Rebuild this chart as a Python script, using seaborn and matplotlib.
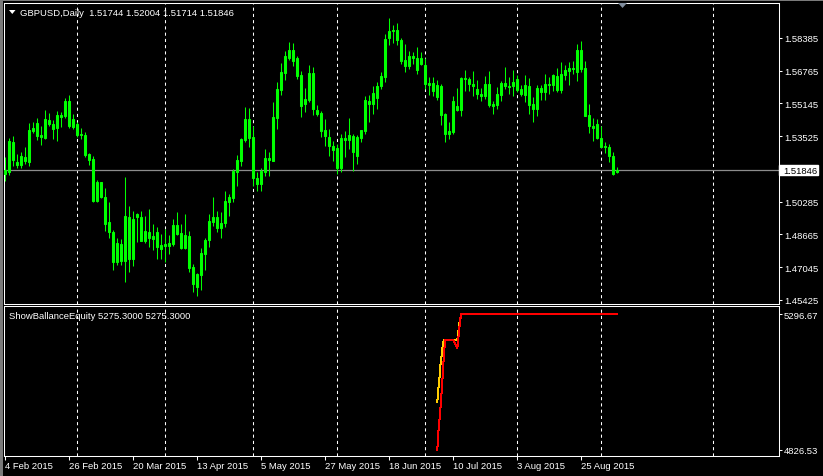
import numpy as np
import pandas as pd
import matplotlib
matplotlib.use("Agg")
import matplotlib.pyplot as plt
import matplotlib.transforms as mtransforms
from matplotlib.patches import Rectangle, Polygon
import seaborn as sns

# ---------------- data ----------------
opens = [1.5166, 1.5174, 1.5322, 1.5224, 1.5210, 1.5248, 1.5227, 1.5380, 1.5418, 1.5359,
         1.5344, 1.5431, 1.5412, 1.5395, 1.5458, 1.5451, 1.5527, 1.5400, 1.5412, 1.5359,
         1.5359, 1.5263, 1.5240, 1.5034, 1.5125, 1.5050, 1.4926, 1.4877, 1.4729, 1.4819,
         1.4737, 1.4951, 1.4745, 1.4951, 1.4951, 1.4836, 1.4877, 1.4844, 1.4877, 1.4794,
         1.4811, 1.4824, 1.4819, 1.4913, 1.4873, 1.4801, 1.4857, 1.4705, 1.4608, 1.4667,
         1.4771, 1.4837, 1.4926, 1.4951, 1.4901, 1.4921, 1.5028, 1.5048, 1.5174, 1.5231,
         1.5335, 1.5438, 1.5347, 1.5144, 1.5116, 1.5174, 1.5236, 1.5231, 1.5444, 1.5583,
         1.5667, 1.5739, 1.5779, 1.5738, 1.5655, 1.5510, 1.5533, 1.5665, 1.5482, 1.5467,
         1.5383, 1.5347, 1.5302, 1.5292, 1.5197, 1.5344, 1.5335, 1.5352, 1.5253, 1.5344,
         1.5380, 1.5525, 1.5514, 1.5543, 1.5599, 1.5647, 1.5837, 1.5875, 1.5877, 1.5829,
         1.5728, 1.5702, 1.5748, 1.5740, 1.5712, 1.5705, 1.5606, 1.5616, 1.5606, 1.5599,
         1.5461, 1.5362, 1.5375, 1.5500, 1.5484, 1.5635, 1.5635, 1.5609, 1.5586, 1.5561,
         1.5553, 1.5611, 1.5512, 1.5509, 1.5558, 1.5616, 1.5603, 1.5603, 1.5636, 1.5586,
         1.5558, 1.5599, 1.5512, 1.5487, 1.5591, 1.5570, 1.5611, 1.5606, 1.5649, 1.5581,
         1.5657, 1.5677, 1.5690, 1.5672, 1.5779, 1.5688, 1.5457, 1.5405, 1.5411, 1.5343,
         1.5306, 1.5299, 1.5256, 1.51744]
highs = [1.5248, 1.5342, 1.5352, 1.5263, 1.5273, 1.5298, 1.5418, 1.5421, 1.5443, 1.5405,
         1.5481, 1.5468, 1.5433, 1.5476, 1.5471, 1.5540, 1.5557, 1.5463, 1.5425, 1.5392,
         1.5372, 1.5270, 1.5253, 1.5138, 1.5128, 1.5095, 1.5026, 1.4890, 1.4847, 1.4844,
         1.5151, 1.5009, 1.4984, 1.4973, 1.4981, 1.4956, 1.4993, 1.4918, 1.4902, 1.4868,
         1.4896, 1.4863, 1.4943, 1.4979, 1.4918, 1.4968, 1.4885, 1.4720, 1.4675, 1.4801,
         1.4849, 1.4968, 1.5053, 1.4984, 1.4976, 1.5083, 1.5066, 1.5190, 1.5261, 1.5344,
         1.5497, 1.5494, 1.5401, 1.5174, 1.5195, 1.5289, 1.5276, 1.5523, 1.5619, 1.5713,
         1.5776, 1.5817, 1.5814, 1.5748, 1.5675, 1.5589, 1.5707, 1.5697, 1.5507, 1.5479,
         1.5438, 1.5388, 1.5330, 1.5314, 1.5363, 1.5380, 1.5443, 1.5363, 1.5358, 1.5385,
         1.5553, 1.5556, 1.5599, 1.5622, 1.5669, 1.5858, 1.5938, 1.5903, 1.5913, 1.5837,
         1.5809, 1.5773, 1.5771, 1.5792, 1.5768, 1.5738, 1.5644, 1.5644, 1.5632, 1.5611,
         1.5467, 1.5421, 1.5550, 1.5591, 1.5644, 1.5680, 1.5644, 1.5675, 1.5632, 1.5591,
         1.5652, 1.5675, 1.5528, 1.5598, 1.5627, 1.5697, 1.5644, 1.5680, 1.5655, 1.5606,
         1.5655, 1.5639, 1.5545, 1.5606, 1.5606, 1.5660, 1.5644, 1.5660, 1.5688, 1.5721,
         1.5705, 1.5721, 1.5726, 1.5809, 1.5824, 1.5726, 1.5512, 1.5441, 1.5438, 1.5401,
         1.5325, 1.5314, 1.5273, 1.52004]
lows = [1.5133, 1.5161, 1.5204, 1.5197, 1.5194, 1.5215, 1.5207, 1.5369, 1.5336, 1.5309,
        1.5339, 1.5402, 1.5339, 1.5329, 1.5397, 1.5445, 1.5392, 1.5389, 1.5347, 1.5339,
        1.5248, 1.5210, 1.5029, 1.5025, 1.5045, 1.4885, 1.4847, 1.4692, 1.4715, 1.4715,
        1.4630, 1.4682, 1.4712, 1.4831, 1.4836, 1.4824, 1.4803, 1.4791, 1.4745, 1.4745,
        1.4728, 1.4769, 1.4811, 1.4863, 1.4794, 1.4797, 1.4679, 1.4580, 1.4560, 1.4593,
        1.4692, 1.4807, 1.4910, 1.4877, 1.4850, 1.4906, 1.4956, 1.5025, 1.5104, 1.5207,
        1.5322, 1.5301, 1.5108, 1.5083, 1.5083, 1.5154, 1.5157, 1.5231, 1.5388, 1.5558,
        1.5632, 1.5731, 1.5702, 1.5636, 1.5446, 1.5471, 1.5523, 1.5459, 1.5454, 1.5347,
        1.5302, 1.5256, 1.5231, 1.5165, 1.5177, 1.5248, 1.5289, 1.5182, 1.5215, 1.5322,
        1.5363, 1.5421, 1.5462, 1.5487, 1.5586, 1.5622, 1.5804, 1.5814, 1.5804, 1.5710,
        1.5669, 1.5685, 1.5710, 1.5660, 1.5705, 1.5586, 1.5556, 1.5553, 1.5533, 1.5408,
        1.5325, 1.5339, 1.5363, 1.5479, 1.5451, 1.5578, 1.5578, 1.5553, 1.5537, 1.5528,
        1.5537, 1.5495, 1.5462, 1.5487, 1.5528, 1.5586, 1.5561, 1.5553, 1.5570, 1.5553,
        1.5523, 1.5462, 1.5424, 1.5454, 1.5533, 1.5533, 1.5561, 1.5578, 1.5573, 1.5565,
        1.5632, 1.5606, 1.5660, 1.5627, 1.5669, 1.5451, 1.5368, 1.5330, 1.5339, 1.5297,
        1.5269, 1.5223, 1.5160, 1.51714]
closes = [1.5185, 1.5327, 1.5237, 1.5210, 1.5253, 1.5232, 1.5384, 1.5393, 1.5356, 1.5351,
          1.5438, 1.5413, 1.5390, 1.5458, 1.5450, 1.5527, 1.5405, 1.5438, 1.5360, 1.5364,
          1.5261, 1.5237, 1.5034, 1.5125, 1.5050, 1.4918, 1.4880, 1.4732, 1.4824, 1.4737,
          1.4956, 1.4745, 1.4943, 1.4968, 1.4836, 1.4884, 1.4847, 1.4860, 1.4803, 1.4814,
          1.4819, 1.4811, 1.4913, 1.4868, 1.4799, 1.4863, 1.4702, 1.4621, 1.4670, 1.4774,
          1.4840, 1.4931, 1.4954, 1.4900, 1.4923, 1.5032, 1.5050, 1.5183, 1.5235, 1.5339,
          1.5438, 1.5345, 1.5144, 1.5114, 1.5182, 1.5243, 1.5245, 1.5447, 1.5586, 1.5672,
          1.5748, 1.5777, 1.5726, 1.5652, 1.5504, 1.5537, 1.5665, 1.5487, 1.5462, 1.5380,
          1.5352, 1.5306, 1.5286, 1.5197, 1.5342, 1.5335, 1.5358, 1.5273, 1.5347, 1.5382,
          1.5530, 1.5514, 1.5565, 1.5599, 1.5649, 1.5834, 1.5875, 1.5878, 1.5827, 1.5726,
          1.5702, 1.5748, 1.5741, 1.5682, 1.5740, 1.5613, 1.5616, 1.5578, 1.5545, 1.5459,
          1.5362, 1.5378, 1.5525, 1.5484, 1.5639, 1.5640, 1.5609, 1.5602, 1.5560, 1.5553,
          1.5611, 1.5509, 1.5504, 1.5561, 1.5616, 1.5603, 1.5598, 1.5619, 1.5583, 1.5561,
          1.5606, 1.5509, 1.5487, 1.5591, 1.5570, 1.5611, 1.5606, 1.5655, 1.5581, 1.5660,
          1.5680, 1.5690, 1.5687, 1.5779, 1.5685, 1.5454, 1.5401, 1.5395, 1.5342, 1.5301,
          1.5297, 1.5253, 1.5165, 1.51846]

date_tick_bars = [0, 16, 32, 48, 64, 80, 96, 112, 128, 144]
date_tick_labels = ["4 Feb 2015", "26 Feb 2015", "20 Mar 2015", "13 Apr 2015", "5 May 2015",
                    "27 May 2015", "18 Jun 2015", "10 Jul 2015", "3 Aug 2015", "25 Aug 2015"]
month_grid_bars = [18, 40, 62, 83, 105, 128, 149, 177]
price_ticks = [1.58385, 1.56765, 1.55145, 1.53525, 1.50285, 1.48665, 1.47045, 1.45425]
indicator_ticks = [5296.67, 4826.53]

equity_x = [108.0, 108.25, 108.5, 108.75, 109.0, 109.25, 109.5, 109.75, 110.0, 112.0,
            113.0, 113.25, 113.5, 113.75, 114.0, 153.0]
equity_y = [4826.6, 4886.7, 4921.3, 4961.7, 5011.4, 5059.9, 5119.9, 5175.4, 5207.7, 5207.7,
            5177.7, 5210.1, 5244.7, 5279.3, 5296.7, 5296.7]
balance_x = [108.0, 108.25, 108.5, 108.75, 109.0, 109.25, 109.5, 109.75, 112.0, 113.0,
             113.25, 113.5, 113.75, 114.0, 153.0]
balance_y = [4990.6, 5036.9, 5065.7, 5117.7, 5143.1, 5175.4, 5198.5, 5207.7, 5207.7, 5207.7,
             5233.2, 5262.0, 5281.7, 5296.7, 5296.7]

title_text = "GBPUSD,Daily  1.51744 1.52004 1.51714 1.51846"
sub_text = "ShowBallanceEquity 5275.3000 5275.3000"

# ---------------- style ----------------
sns.set_theme(style="dark", rc={"axes.facecolor": "black", "figure.facecolor": "black"})
plt.rcParams['font.family'] = ['Liberation Sans', 'DejaVu Sans']
FS = 6.8
LIME = '#00ff00'

W, H = 823, 477
fig = plt.figure(figsize=(W / 100, H / 100), dpi=100, facecolor='black')


def px_axes(l, t, r, b):
    return fig.add_axes([l / W, 1 - b / H, (r - l) / W, (b - t) / H])


ax = px_axes(4, 4, 779, 305)
ax2 = px_axes(4, 307, 779, 457)

df = pd.DataFrame({"o": opens, "h": highs, "l": lows, "c": closes})
df["bar"] = np.arange(len(df))

for a in (ax, ax2):
    a.set_facecolor('black')
    a.set_xlim(-0.325, 193.425)
    for s in a.spines.values():
        s.set_color('white')
        s.set_linewidth(0.75)
    a.grid(False)
    for gb in month_grid_bars:
        a.axvline(gb, color='white', lw=0.75, ls=(0, (3, 3)), zorder=1)
    a.yaxis.tick_right()
    a.tick_params(axis='y', which='both', right=True, left=False, direction='out',
                  length=2.5, width=0.75, color='white', labelcolor='white',
                  labelsize=FS, pad=1.2)

# ---- price panel ----
ax.set_ylim(1.45227, 1.60116)
ax.axhline(closes[-1], color='#8c8c8c', lw=0.9, zorder=2)
ax.vlines(df["bar"], df["l"], df["h"], color=LIME, lw=0.75, zorder=3)
body_lo = np.minimum(df["o"], df["c"])
body_hi = np.maximum(df["o"], df["c"])
ax.bar(df["bar"], body_hi - body_lo, bottom=body_lo, width=0.5, color=LIME,
       edgecolor=LIME, linewidth=0.75, zorder=4)
ax.set_xticks([])
ax.set_yticks(price_ticks)
ax.set_yticklabels([f"{v:.5f}" for v in price_ticks])

# current price tag
blend = mtransforms.blended_transform_factory(ax.transAxes, ax.transData)
ppx = (1.60116 - 1.45227) / 301.0
ax.add_patch(Rectangle((1.0, closes[-1] - 4.8 * ppx), 39 / 775, 9.6 * ppx,
                       transform=blend, facecolor='white', edgecolor='white',
                       clip_on=False, zorder=6))
ax.text(1.0 + 4 / 775, closes[-1], f"{closes[-1]:.5f}", transform=blend, color='black',
        fontsize=FS, va='center', ha='left', zorder=7, clip_on=False)

# ---- indicator panel ----
ax2.set_ylim(4804.7, 5324.39)
sns.lineplot(x=balance_x, y=balance_y, ax=ax2, color='#ffcc00', lw=0.72, zorder=3,
             antialiased=False)
sns.lineplot(x=equity_x, y=equity_y, ax=ax2, color='#ff0000', lw=0.72, zorder=4,
             antialiased=False)
ax2.set_yticks(indicator_ticks)
ax2.set_yticklabels([f"{v:.2f}" for v in indicator_ticks])
ax2.set_xticks(date_tick_bars)
ax2.set_xticklabels(date_tick_labels)
ax2.tick_params(axis='x', which='both', bottom=True, direction='out', length=3,
                width=0.75, color='white', labelcolor='white', labelsize=FS, pad=0.5)
for lab in ax2.get_xticklabels():
    lab.set_ha('left')
ax2.set_xlabel("")
ax2.set_ylabel("")

# ---- texts / decorations ----
fig.text(20 / W, 1 - 13.5 / H, title_text, color='white', fontsize=FS, va='center', ha='left')
fig.text(9 / W, 1 - 316.5 / H, sub_text, color='white', fontsize=FS, va='center', ha='left')
fig.add_artist(Polygon([[9 / W, 1 - 11 / H], [15.5 / W, 1 - 11 / H], [12.25 / W, 1 - 15 / H]],
                       closed=True, facecolor='white', edgecolor='none',
                       transform=fig.transFigure))
fig.add_artist(Polygon([[618 / W, 1 - 4 / H], [627 / W, 1 - 4 / H], [622.5 / W, 1 - 9 / H]],
                       closed=True, facecolor='#7f8c9c', edgecolor='none',
                       transform=fig.transFigure))
fig.add_artist(Rectangle((0, 0), 2.5 / W, 1, facecolor='#7a7a7a', edgecolor='none',
                         transform=fig.transFigure))
fig.add_artist(Rectangle((0, 1 - 1.5 / H), 1, 1.5 / H, facecolor='#7a7a7a', edgecolor='none',
                         transform=fig.transFigure))

fig.savefig("out.png", dpi=100, facecolor='black')
